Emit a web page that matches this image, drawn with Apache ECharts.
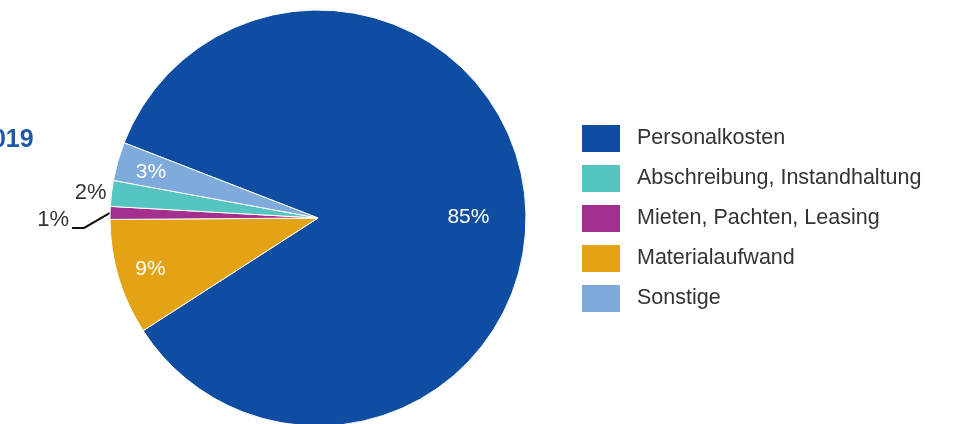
<!DOCTYPE html>
<html><head><meta charset="utf-8">
<script src="https://cdn.jsdelivr.net/npm/echarts@6/dist/echarts.min.js"></script>
<style>html,body{margin:0;padding:0;background:#fff}#c{width:962px;height:424px}</style>
</head><body><div id="c"></div>
<script>
// Data (pie order clockwise starting at upper left)
const categories = ['Personalkosten', 'Materialaufwand', 'Mieten, Pachten, Leasing', 'Abschreibung, Instandhaltung', 'Sonstige'];
const values = [85, 9, 1, 2, 3];
const legendOrder = ['Personalkosten', 'Abschreibung, Instandhaltung', 'Mieten, Pachten, Leasing', 'Materialaufwand', 'Sonstige'];
const titleText = '2019';

const colors = {
  'Personalkosten': '#0e4da1',
  'Abschreibung, Instandhaltung': '#55c5c1',
  'Mieten, Pachten, Leasing': '#a3308e',
  'Materialaufwand': '#e4a315',
  'Sonstige': '#7eabdb'
};
const font = '"Liberation Sans", Arial, Helvetica, sans-serif';

const labelCfg = {
  'Personalkosten': { offset: [44, 10] },
  'Materialaufwand': { offset: [-65, 21] },
  'Sonstige': { offset: [-64, -17] },
  'Abschreibung, Instandhaltung': { outside: true, line: false },
  'Mieten, Pachten, Leasing': { outside: true, line: true }
};

const data = categories.map((name, i) => {
  const cfg = labelCfg[name];
  const item = { name, value: values[i], itemStyle: { color: colors[name] } };
  if (cfg.outside) {
    item.label = { position: 'outside', color: '#333', fontSize: 22 };
    item.labelLine = cfg.line
      ? { show: true, length: 22, length2: 10, lineStyle: { color: '#111', width: 2 } }
      : { show: false, length: 0, length2: 0 };
  } else {
    item.label = { position: 'inside', offset: cfg.offset };
  }
  return item;
});
const miIdx = categories.indexOf('Mieten, Pachten, Leasing');

const chart = echarts.init(document.getElementById('c'));
chart.setOption({
  animation: false,
  color: categories.map(n => colors[n]),
  graphic: [{
    type: 'text', left: -22, top: 128,
    style: { text: titleText, fill: '#1f58a6', font: 'bold 25px ' + font }
  }],
  legend: {
    data: legendOrder,
    orient: 'vertical',
    left: 582, top: 125,
    itemWidth: 38, itemHeight: 27, itemGap: 13,
    icon: 'rect',
    padding: 0,
    itemStyle: { borderWidth: 0 },
    textStyle: { fontSize: 21.5, color: '#333', fontFamily: font, padding: [0, 0, 0, 12] },
    selectedMode: false
  },
  series: [{
    type: 'pie',
    center: [318, 218],
    radius: 208,
    startAngle: 158.8,
    clockwise: true,
    avoidLabelOverlap: false,
    itemStyle: { borderColor: '#fff', borderWidth: 1 },
    label: {
      show: true,
      formatter: '{c}%',
      color: '#fff',
      fontSize: 21,
      fontFamily: font
    },
    labelLayout: function (params) {
      if (params.dataIndex !== miIdx || !params.labelLinePoints) return {};
      const p0 = params.labelLinePoints[0];
      const p1 = [p0[0] - 26, p0[1] + 15];
      const p2 = [p0[0] - 38, p0[1] + 15];
      return {
        labelLinePoints: [p0, p1, p2],
        x: p2[0] - 3, y: p2[1] - 8,
        align: 'right', verticalAlign: 'middle'
      };
    },
    emphasis: { disabled: true },
    data: data
  }]
});
</script>
</body></html>
